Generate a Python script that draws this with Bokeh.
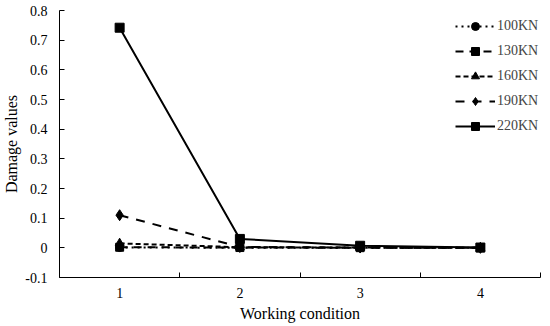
from bokeh.plotting import figure
from bokeh.models import FixedTicker, NumeralTickFormatter, Range1d, Legend, LegendItem
from bokeh.embed import file_html
from bokeh.resources import INLINE

conditions = [1, 2, 3, 4]
d100 = [0.001, 0.0005, 0.0002, 0.0]
d130 = [0.002, 0.001, 0.0005, 0.0]
d160 = [0.015, 0.002, 0.001, 0.0]
d190 = [0.11, 0.003, 0.001, 0.0]
d220 = [0.742, 0.03, 0.007, 0.001]
names = ["100KN", "130KN", "160KN", "190KN", "220KN"]
y_ticks = [-0.1, 0, 0.1, 0.2, 0.3, 0.4, 0.5, 0.6, 0.7, 0.8]

FONT = "Liberation Serif"

p = figure(width=542, height=326, output_backend="svg", toolbar_location=None,
           x_range=Range1d(0.5, 4.5), y_range=Range1d(-0.1, 0.8),
           min_border_left=56, min_border_right=2, min_border_top=10, min_border_bottom=49)
p.outline_line_color = None
p.xgrid.visible = False
p.ygrid.visible = False

styles = [
    (d100, "dotted", "circle", 8),
    (d130, "8 6", "square", 8),
    (d160, "5 3", "triangle", 9),
    (d190, "9 8", "diamond", 11),
    (d220, "solid", "square", 9),
]
items = []
for name, (ys, dash, marker, sz) in zip(names, styles):
    r1 = p.line(conditions, ys, line_color="black", line_width=2, line_dash=dash)
    r2 = p.scatter(conditions, ys, marker=marker, size=sz, color="black")
    items.append(LegendItem(label=name, renderers=[r1, r2]))

legend = Legend(items=items, location=(396, 141), border_line_color=None,
                background_fill_alpha=0, padding=0, margin=0, spacing=5,
                glyph_width=40, glyph_height=20, label_height=20, label_standoff=2,
                label_text_font=FONT, label_text_font_size="14px")
p.add_layout(legend, "center")

p.xaxis.ticker = FixedTicker(ticks=conditions, minor_ticks=[0.5, 1.5, 2.5, 3.5, 4.5])
p.xaxis.major_tick_in = 0
p.xaxis.major_tick_out = 0
p.xaxis.minor_tick_in = 5
p.xaxis.minor_tick_out = 0
p.yaxis.ticker = FixedTicker(ticks=y_ticks)
p.yaxis.formatter = NumeralTickFormatter(format="0.[0]")
p.yaxis.major_tick_in = 5
p.yaxis.major_tick_out = 0
p.yaxis.minor_tick_in = 0
p.yaxis.minor_tick_out = 0

for ax in (p.xaxis, p.yaxis):
    ax.axis_line_color = "black"
    ax.major_tick_line_color = "black"
    ax.minor_tick_line_color = "black"
    ax.major_label_text_font = FONT
    ax.major_label_text_font_size = "14px"
    ax.major_label_text_color = "black"
    ax.axis_label_text_font = FONT
    ax.axis_label_text_font_size = "16px"
    ax.axis_label_text_font_style = "normal"
    ax.axis_label_text_color = "black"

p.xaxis.axis_label = "Working condition"
p.yaxis.axis_label = "Damage values"
p.xaxis.major_label_standoff = 10
p.xaxis.axis_label_standoff = 4
p.yaxis.major_label_standoff = 12
p.yaxis.axis_label_standoff = 2

open("out.html", "w").write(file_html(p, INLINE))
